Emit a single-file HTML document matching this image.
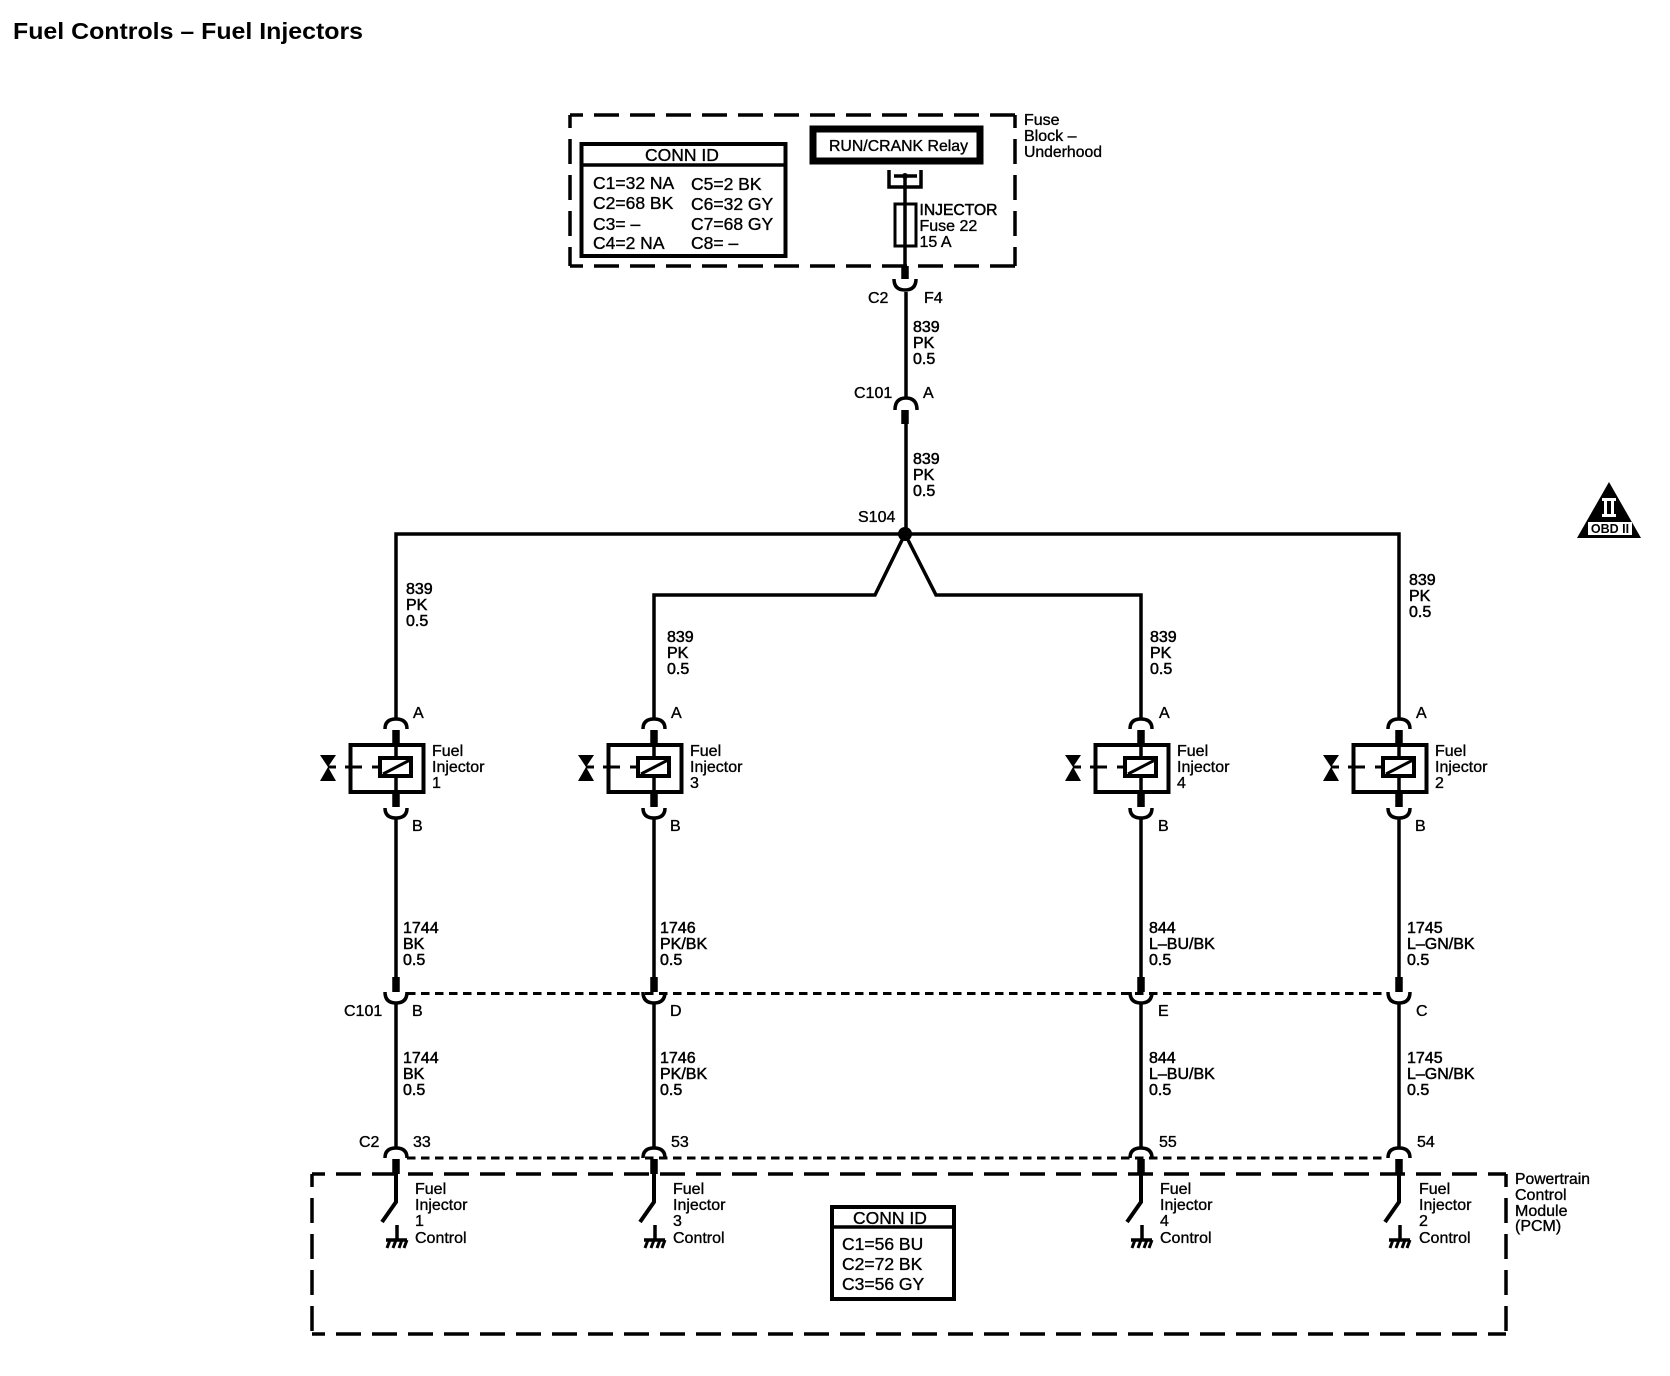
<!DOCTYPE html>
<html lang="en">
<head>
<meta charset="utf-8">
<title>Fuel Controls – Fuel Injectors</title>
<style>
html,body{margin:0;padding:0;background:#fff;width:1670px;height:1376px;overflow:hidden}
svg{display:block}
text{font-family:"Liberation Sans",Arial,sans-serif;font-size:16px;fill:#000;stroke:#000;stroke-width:.35}
.w{font-size:16px;stroke-width:.5}
.b{font-size:17.5px}
.l{fill:none;stroke:#000;stroke-width:3.5}
.t{fill:none;stroke:#000;stroke-width:7.5}
.d{fill:none;stroke:#000;stroke-width:3.5;stroke-dasharray:25 11;stroke-dashoffset:12}
.s{fill:none;stroke:#000;stroke-width:3;stroke-dasharray:8.5 5.5}
</style>
</head>
<body>
<svg width="1670" height="1376" viewBox="0 0 1670 1376" xmlns="http://www.w3.org/2000/svg">
<defs>
<g id="inj">
  <path class="l" d="M0 640V719"/>
  <path class="l" d="M-11 729Q-11 719 0 719Q11 719 11 729"/>
  <path class="t" d="M0 730V745"/>
  <rect x="-45.500" y="745" width="73" height="47" fill="none" stroke="#000" stroke-width="4"/>
  <path class="l" d="M0 745V758M0 776V792"/>
  <rect x="-16" y="758" width="31" height="18" fill="none" stroke="#000" stroke-width="4"/>
  <path style="fill:none;stroke:#000;stroke-width:3" d="M-13 774L14 760"/>
  <path class="t" d="M0 792V807"/>
  <path class="l" d="M-11 808Q-11 818 0 818Q11 818 11 808"/>
  <path class="l" d="M0 818V977"/>
  <path style="fill:#000" d="M-76 755H-60L-68 767L-60 781H-76L-68 767Z"/>
  <path style="fill:none;stroke:#000;stroke-width:3" d="M-68 767H-60M-51 767H-34M-24 767H-16"/>
  <path class="t" d="M0 977V992"/>
  <path class="l" d="M-11 992Q-11 1003 0 1003Q11 1003 11 992"/>
  <path class="l" d="M0 1003V1148"/>
  <path class="l" d="M-11 1158Q-11 1148 0 1148Q11 1148 11 1158"/>
  <path class="t" d="M0 1159V1174"/>
  <path style="fill:none;stroke:#000;stroke-width:4" d="M0 1174V1202L-14 1222"/>
  <path class="l" d="M1 1225V1240M-10 1240H11"/>
  <path style="fill:none;stroke:#000;stroke-width:3" d="M-6 1240L-9 1248M0 1240L-3 1248M6 1240L3 1248M11 1240L8 1248"/>
</g>
</defs>

<text x="13" y="39" style="font-size:23px;font-weight:bold;stroke-width:0" textLength="350" lengthAdjust="spacingAndGlyphs">Fuel Controls – Fuel Injectors</text>

<!-- Fuse block -->
<path class="d" d="M570 115H1015"/>
<path class="d" d="M570 266H1015"/>
<path class="d" d="M570 115V266"/>
<path class="d" d="M1015 115V266"/>
<text x="1024" y="125">Fuse</text>
<text x="1024" y="141">Block –</text>
<text x="1024" y="157" textLength="78" lengthAdjust="spacingAndGlyphs">Underhood</text>

<rect x="581.500" y="144" width="204" height="112" fill="#fff" stroke="#000" stroke-width="4"/>
<path class="l" d="M581 165H786"/>
<text class="b" x="682" y="161" text-anchor="middle">CONN ID</text>
<text class="b" x="593" y="189">C1=32 NA</text>
<text class="b" x="691" y="190">C5=2 BK</text>
<text class="b" x="593" y="209">C2=68 BK</text>
<text class="b" x="691" y="210">C6=32 GY</text>
<text class="b" x="593" y="230">C3= –</text>
<text class="b" x="691" y="230">C7=68 GY</text>
<text class="b" x="593" y="249">C4=2 NA</text>
<text class="b" x="691" y="249">C8= –</text>

<rect x="813" y="129" width="167" height="32" fill="#fff" stroke="#000" stroke-width="7"/>
<text x="829" y="151" textLength="139" lengthAdjust="spacingAndGlyphs">RUN/CRANK Relay</text>

<path class="l" d="M889 170V187H921V170"/>
<path class="l" d="M894 176H917"/>
<circle cx="905" cy="176" r="3" fill="#000"/>
<path class="l" d="M905 176V266"/>
<rect x="895" y="204" width="21" height="42" fill="none" stroke="#000" stroke-width="3"/>
<text x="919.500" y="215" style="stroke-width:.5" textLength="78" lengthAdjust="spacingAndGlyphs">INJECTOR</text>
<text x="919.500" y="231">Fuse 22</text>
<text x="919.500" y="247">15 A</text>

<path class="t" d="M905 266V279"/>
<path class="l" d="M894 279Q894 290 905 290Q916 290 916 279"/>
<path class="l" d="M906 292V398"/>
<path class="l" d="M895 410Q895 398 906 398Q917 398 917 410"/>
<path class="t" d="M905 410V424"/>
<path class="l" d="M906 424V534"/>
<text x="868" y="303">C2</text>
<text x="924" y="303">F4</text>
<text class="w" x="913" y="332">839</text>
<text class="w" x="913" y="348">PK</text>
<text class="w" x="913" y="364">0.5</text>
<text x="854" y="398">C101</text>
<text x="923" y="398">A</text>
<text class="w" x="913" y="464">839</text>
<text class="w" x="913" y="480">PK</text>
<text class="w" x="913" y="496">0.5</text>
<text x="858" y="522">S104</text>

<!-- Bus -->
<path class="l" d="M396 640V534H1399V640"/>
<path class="l" d="M654 640V595H875L905 534L936 595H1141V640"/>
<circle cx="905" cy="534" r="7" fill="#000"/>

<!-- Injector wires -->
<use href="#inj" transform="translate(396 0)"/>
<use href="#inj" transform="translate(654 0)"/>
<use href="#inj" transform="translate(1141 0)"/>
<use href="#inj" transform="translate(1399 0)"/>

<!-- Upper wire labels -->
<text class="w" x="406" y="594">839</text><text class="w" x="406" y="610">PK</text><text class="w" x="406" y="626">0.5</text>
<text class="w" x="667" y="642">839</text><text class="w" x="667" y="658">PK</text><text class="w" x="667" y="674">0.5</text>
<text class="w" x="1150" y="642">839</text><text class="w" x="1150" y="658">PK</text><text class="w" x="1150" y="674">0.5</text>
<text class="w" x="1409" y="585">839</text><text class="w" x="1409" y="601">PK</text><text class="w" x="1409" y="617">0.5</text>

<!-- Pin A / B -->
<text x="413" y="718">A</text><text x="671" y="718">A</text><text x="1159" y="718">A</text><text x="1416" y="718">A</text>
<text x="412" y="831">B</text><text x="670" y="831">B</text><text x="1158" y="831">B</text><text x="1415" y="831">B</text>

<!-- Injector names -->
<text x="432" y="756">Fuel</text><text x="432" y="772">Injector</text><text x="432" y="788">1</text>
<text x="690" y="756">Fuel</text><text x="690" y="772">Injector</text><text x="690" y="788">3</text>
<text x="1177" y="756">Fuel</text><text x="1177" y="772">Injector</text><text x="1177" y="788">4</text>
<text x="1435" y="756">Fuel</text><text x="1435" y="772">Injector</text><text x="1435" y="788">2</text>

<!-- Mid wire labels -->
<text class="w" x="403" y="933">1744</text><text class="w" x="403" y="949">BK</text><text class="w" x="403" y="965">0.5</text>
<text class="w" x="660" y="933">1746</text><text class="w" x="660" y="949">PK/BK</text><text class="w" x="660" y="965">0.5</text>
<text class="w" x="1149" y="933">844</text><text class="w" x="1149" y="949">L–BU/BK</text><text class="w" x="1149" y="965">0.5</text>
<text class="w" x="1407" y="933">1745</text><text class="w" x="1407" y="949">L–GN/BK</text><text class="w" x="1407" y="965">0.5</text>

<!-- C101 row -->
<path class="s" d="M407 993.500H1387"/>
<text x="344" y="1016">C101</text>
<text x="412" y="1016">B</text><text x="670" y="1016">D</text><text x="1158" y="1016">E</text><text x="1416" y="1016">C</text>

<text class="w" x="403" y="1063">1744</text><text class="w" x="403" y="1079">BK</text><text class="w" x="403" y="1095">0.5</text>
<text class="w" x="660" y="1063">1746</text><text class="w" x="660" y="1079">PK/BK</text><text class="w" x="660" y="1095">0.5</text>
<text class="w" x="1149" y="1063">844</text><text class="w" x="1149" y="1079">L–BU/BK</text><text class="w" x="1149" y="1095">0.5</text>
<text class="w" x="1407" y="1063">1745</text><text class="w" x="1407" y="1079">L–GN/BK</text><text class="w" x="1407" y="1095">0.5</text>

<!-- C2 row -->
<path class="s" d="M407 1158H1387"/>
<text x="359" y="1147">C2</text>
<text x="413" y="1147">33</text><text x="671" y="1147">53</text><text x="1159" y="1147">55</text><text x="1417" y="1147">54</text>

<!-- PCM -->
<path class="d" d="M312 1174H1506"/>
<path class="d" d="M312 1334H1506"/>
<path class="d" d="M312 1174V1334"/>
<path class="d" d="M1506 1174V1334"/>
<text x="1515" y="1184" textLength="75" lengthAdjust="spacingAndGlyphs">Powertrain</text>
<text x="1515" y="1200">Control</text>
<text x="1515" y="1216">Module</text>
<text x="1515" y="1231">(PCM)</text>

<text x="415" y="1194">Fuel</text><text x="415" y="1210">Injector</text><text x="415" y="1226">1</text><text x="415" y="1243">Control</text>
<text x="673" y="1194">Fuel</text><text x="673" y="1210">Injector</text><text x="673" y="1226">3</text><text x="673" y="1243">Control</text>
<text x="1160" y="1194">Fuel</text><text x="1160" y="1210">Injector</text><text x="1160" y="1226">4</text><text x="1160" y="1243">Control</text>
<text x="1419" y="1194">Fuel</text><text x="1419" y="1210">Injector</text><text x="1419" y="1226">2</text><text x="1419" y="1243">Control</text>

<rect x="832" y="1207" width="122" height="92" fill="#fff" stroke="#000" stroke-width="4"/>
<path class="l" d="M832 1227H954"/>
<text class="b" x="890" y="1224" text-anchor="middle">CONN ID</text>
<text class="b" x="842" y="1250">C1=56 BU</text>
<text class="b" x="842" y="1270">C2=72 BK</text>
<text class="b" x="842" y="1290">C3=56 GY</text>

<!-- OBD II badge -->
<path d="M1609 482L1641 538H1577Z" fill="#000"/>
<rect x="1588" y="522" width="44" height="13" fill="#fff"/>
<path d="M1602 498H1616V501H1614V514H1616V517H1602V514H1604V501H1602ZM1607 501V514H1611V501Z" fill="#fff" fill-rule="evenodd"/>
<text x="1610" y="533" text-anchor="middle" style="font-size:12.5px;font-weight:bold;stroke-width:0">OBD II</text>
</svg>
</body>
</html>
